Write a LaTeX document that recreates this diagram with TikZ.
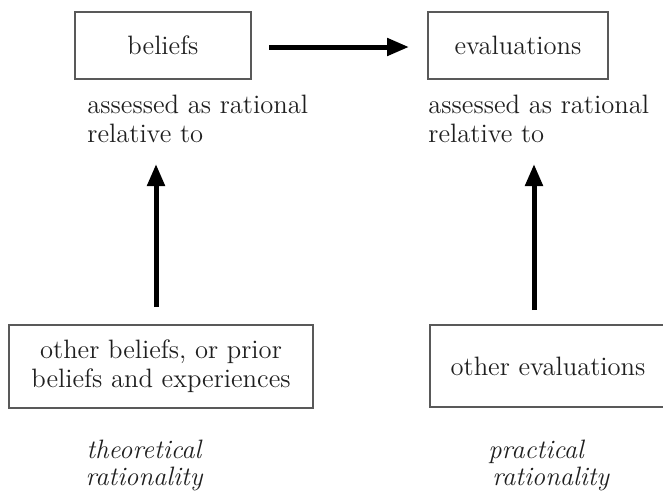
\documentclass[tikz,border=0pt]{standalone}
\usetikzlibrary{arrows.meta}
\begin{document}
\begin{tikzpicture}[x=0.5pt,y=-0.5pt,
  every node/.style={font=\fontsize{13.3}{14.5}\selectfont, text=black!88, inner sep=0pt},
  box/.style={draw=black!65, line width=0.6pt, minimum height=33.5pt},
  lbl/.style={align=left, anchor=base west},
  arr/.style={line width=2.5pt, -{Triangle[length=11pt,width=8.5pt]}}]
\useasboundingbox (0,0) rectangle (663,494);
% boxes
\node[box, minimum width=88pt] (b) at (163,45.5) {beliefs};
\node[box, minimum width=90pt] (e) at (518,45.5) {evaluations};
\node[box, minimum width=152pt, minimum height=41.5pt, align=center] (ob) at (161,366.5) {other beliefs, or prior\\beliefs and experiences};
\node[box, minimum width=118pt, minimum height=41pt] (oe) at (548,366) {other evaluations};
% labels (base = last line)
\node[lbl] (la) at (87,142) {assessed as rational\\relative to};
\node[lbl] (ra) at (428,142) {assessed as rational\\relative to};
\node[align=center, anchor=base, font=\fontsize{13.3}{13.5}\selectfont\itshape] (tr) at (144,485) {theoretical\\rationality};
\node[align=left, anchor=base west, font=\fontsize{13.3}{13.5}\selectfont\itshape] (pr) at (488,485) {practical\\\hspace*{2pt}rationality};
% arrow endpoints
\coordinate (h1) at (269,47);
\coordinate (h2) at (409,47);
\coordinate (l1) at (156,307);
\coordinate (l2) at (156,164);
\coordinate (r1) at (534,310);
\coordinate (r2) at (534,164);
\draw[arr] (h1) -- (h2);
\draw[arr] (l1) -- (l2);
\draw[arr] (r1) -- (r2);
\end{tikzpicture}
\end{document}
